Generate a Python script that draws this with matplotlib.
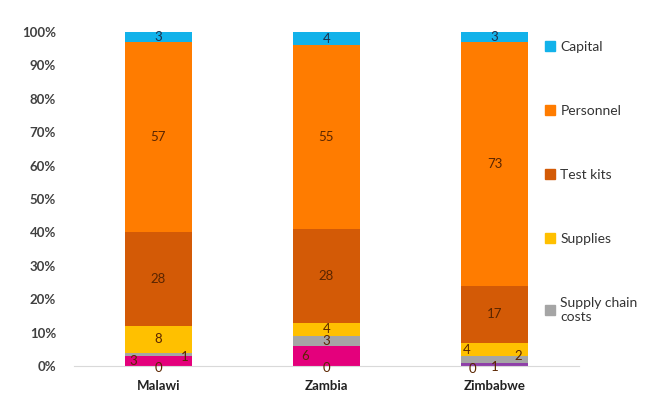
import numpy as np
import matplotlib
matplotlib.use("Agg")
import matplotlib.pyplot as plt
from matplotlib.patches import Patch

plt.rcParams['font.family'] = ['Lato', 'DejaVu Sans']

countries = ['Malawi', 'Zambia', 'Zimbabwe']

# cost shares in percent, bottom of the stack first
overheads = [3, 6, 0]
other = [0, 0, 1]
supply_chain = [1, 3, 2]
supplies = [8, 4, 4]
test_kits = [28, 28, 17]
personnel = [57, 55, 73]
capital = [3, 4, 3]

series = [
    ('Overheads', overheads, '#E4007C'),
    ('Other', other, '#8E3FA8'),
    ('Supply chain costs', supply_chain, '#A5A5A5'),
    ('Supplies', supplies, '#FFC000'),
    ('Test kits', test_kits, '#D35A06'),
    ('Personnel', personnel, '#FF7C00'),
    ('Capital', capital, '#12B2EA'),
]

# hand-placed label spots for the thin bottom segments: (dx, y) per country
small_pos = {
    'Overheads': [(-0.15, None), (-0.125, None), (-0.13, -0.8)],
    'Other': [(0.0, -0.6), (0.0, -0.6), (0.0, -0.4)],
    'Supply chain costs': [(0.16, 2.8), (0.0, None), (0.14, 3.0)],
    'Supplies': [(0.0, None), (0.0, None), (-0.165, 4.8)],
}

fig = plt.figure(figsize=(6.69, 3.96), dpi=100)
ax = fig.add_axes([0.111, 0.076, 0.754, 0.843])

x = np.arange(len(countries))
width = 0.40
bottom = np.zeros(len(countries))
for name, vals, col in series:
    vals = np.array(vals, dtype=float)
    ax.bar(x, vals, width, bottom=bottom, color=col, linewidth=0, zorder=2)
    for i, v in enumerate(vals):
        dx, y = 0.0, None
        if name in small_pos:
            dx, y = small_pos[name][i]
        if y is None:
            y = bottom[i] + v / 2
        tc = '#1f2f4a' if name == 'Capital' else '#5a2500'
        ax.text(x[i] + dx, y, '%d' % v, ha='center', va='center',
                fontsize=9.5, color=tc, zorder=3)
    bottom += vals

ax.set_xlim(-0.5, len(countries) - 0.5)
ax.set_ylim(0, 100)
ax.set_yticks(np.arange(0, 101, 10))
ax.set_yticklabels(['%d%%' % t for t in range(0, 101, 10)],
                   fontsize=9.5, fontweight='bold', color='#404040')
ax.set_xticks(x)
ax.set_xticklabels(countries, fontsize=9.5, fontweight='bold', color='#222222')
ax.tick_params(axis='y', length=0, pad=13)
ax.tick_params(axis='x', length=0, pad=10)
for s in ['top', 'right', 'left']:
    ax.spines[s].set_visible(False)
ax.spines['bottom'].set_color('#d9d9d9')

handles = [Patch(color=c, label=n) for n, v, c in series[::-1][:5]]
labels = ['Capital', 'Personnel', 'Test kits', 'Supplies', 'Supply chain\ncosts']
fig.legend(handles, labels, loc='upper left', bbox_to_anchor=(0.796, 0.929),
           frameon=False, fontsize=10, handlelength=0.7, handleheight=0.7,
           handletextpad=0.4, labelspacing=3.75, labelcolor='#333333')

fig.savefig('out.png', dpi=100)
